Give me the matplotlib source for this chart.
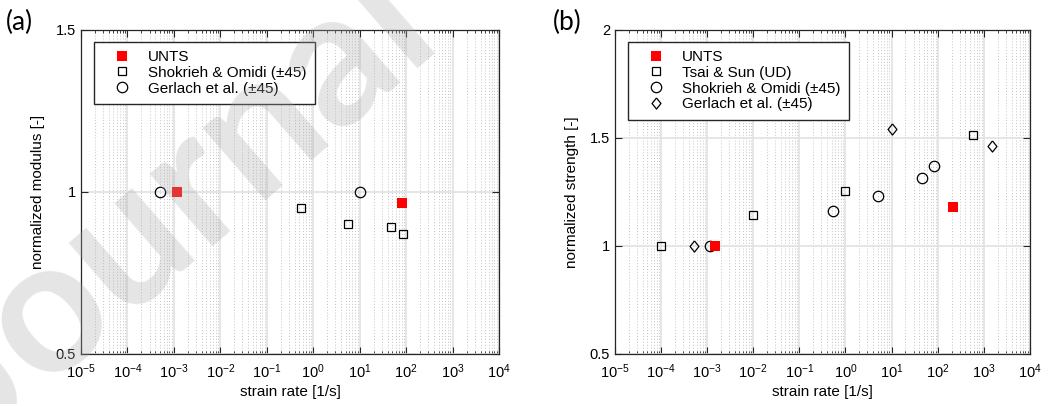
import matplotlib.pyplot as plt
from matplotlib.ticker import LogLocator, NullFormatter

plt.rcParams['font.family'] = ['Liberation Sans', 'DejaVu Sans']

# (a) normalized modulus vs strain rate
unts_rate_a = [1.15e-3, 81]
unts_mod = [1.0, 0.964]
shok_rate_a = [0.55, 5.5, 47, 85]
shok_mod = [0.95, 0.90, 0.891, 0.871]
gerl_rate_a = [5.1e-4, 10]
gerl_mod = [1.0, 1.0]

# (b) normalized strength vs strain rate
unts_rate_b = [1.47e-3, 213]
unts_str = [1.0, 1.178]
tsai_rate = [1e-4, 1e-2, 1.0, 590]
tsai_str = [1.0, 1.142, 1.253, 1.512]
shok_rate_b = [1.15e-3, 0.53, 5.2, 46, 82]
shok_str = [1.0, 1.159, 1.230, 1.312, 1.370]
gerl_rate_b = [5.1e-4, 10.2, 1520]
gerl_str = [1.0, 1.542, 1.463]

DIAMOND = [(0, 1), (0.8, 0), (0, -1), (-0.8, 0), (0, 1)]
AXCOL = '#262626'


def style_axes(ax, ylim, yticks):
    ax.set_xscale('log')
    ax.set_xlim(1e-5, 1e4)
    ax.set_ylim(*ylim)
    ax.set_yticks(yticks)
    ax.set_yticklabels([f'{t:g}' for t in yticks])
    ax.xaxis.set_major_locator(LogLocator(base=10, numticks=20))
    ax.xaxis.set_minor_locator(LogLocator(base=10, subs=range(2, 10), numticks=20))
    ax.xaxis.set_minor_formatter(NullFormatter())
    ax.tick_params(which='both', direction='in', top=True, right=True,
                   color=AXCOL, labelsize=10.5, labelcolor='black')
    ax.tick_params(which='major', length=5, width=0.8)
    ax.tick_params(which='minor', length=2.5, width=0.6)
    ax.tick_params(axis='x', pad=6)
    ax.grid(which='major', color='#e2e2e2', lw=1.2)
    ax.grid(which='minor', axis='x', color='#c4c4c4', ls=(0, (1, 2)), lw=0.7)
    ax.set_axisbelow(True)
    for sp in ax.spines.values():
        sp.set_color(AXCOL)
        sp.set_linewidth(0.9)
    ax.set_xlabel('strain rate [1/s]', fontsize=11, labelpad=3)


def add_legend(ax):
    ax.legend(loc='upper left', bbox_to_anchor=(0.031, 0.963), fontsize=11,
              frameon=True, fancybox=False, edgecolor=AXCOL, framealpha=1,
              handlelength=2.6, handletextpad=0.4, labelspacing=0.12,
              borderpad=0.55, borderaxespad=0)


fig = plt.figure(figsize=(10.45, 4.04), dpi=100)
ax1 = fig.add_axes([0.0775, 0.1238, 0.400, 0.803])
ax2 = fig.add_axes([0.5885, 0.1238, 0.397, 0.803])

# left panel: modulus
ax1.plot(unts_rate_a, unts_mod, 's', color='red', mfc='red', ms=6.5, mew=0,
         label='UNTS', zorder=5)
ax1.plot(shok_rate_a, shok_mod, 's', color='black', mfc='none', ms=6, mew=0.9,
         label='Shokrieh & Omidi (±45)', zorder=4)
ax1.plot(gerl_rate_a, gerl_mod, 'o', color='black', mfc='none', ms=7.5, mew=0.9,
         label='Gerlach et al. (±45)', zorder=4)
style_axes(ax1, (0.5, 1.5), [0.5, 1, 1.5])
ax1.set_ylabel('normalized modulus [-]', fontsize=11, labelpad=8)
add_legend(ax1)

# right panel: strength
ax2.plot(unts_rate_b, unts_str, 's', color='red', mfc='red', ms=6.5, mew=0,
         label='UNTS', zorder=5)
ax2.plot(tsai_rate, tsai_str, 's', color='black', mfc='none', ms=6, mew=0.9,
         label='Tsai & Sun (UD)', zorder=4)
ax2.plot(shok_rate_b, shok_str, 'o', color='black', mfc='none', ms=7.5, mew=0.9,
         label='Shokrieh & Omidi (±45)', zorder=4)
ax2.plot(gerl_rate_b, gerl_str, marker=DIAMOND, ls='none', color='black',
         mfc='none', ms=8, mew=0.9, label='Gerlach et al. (±45)', zorder=4)
style_axes(ax2, (0.5, 2), [0.5, 1, 1.5, 2])
ax2.set_ylabel('normalized strength [-]', fontsize=11, labelpad=8)
add_legend(ax2)

fig.text(0.006, 0.945, '(a)', fontsize=19, family=['Lato', 'DejaVu Sans'], va='center')
fig.text(0.529, 0.945, '(b)', fontsize=19, family=['Lato', 'DejaVu Sans'], va='center')

# pre-proof watermark
fig.text(-0.016, -0.099, 'Journal', fontsize=135, rotation=41, color='#a8a8a8',
         alpha=0.3, family=['Lato', 'DejaVu Sans'], fontweight='bold',
         ha='left', va='baseline', rotation_mode='anchor', zorder=10)

fig.savefig('out.png', dpi=100)
